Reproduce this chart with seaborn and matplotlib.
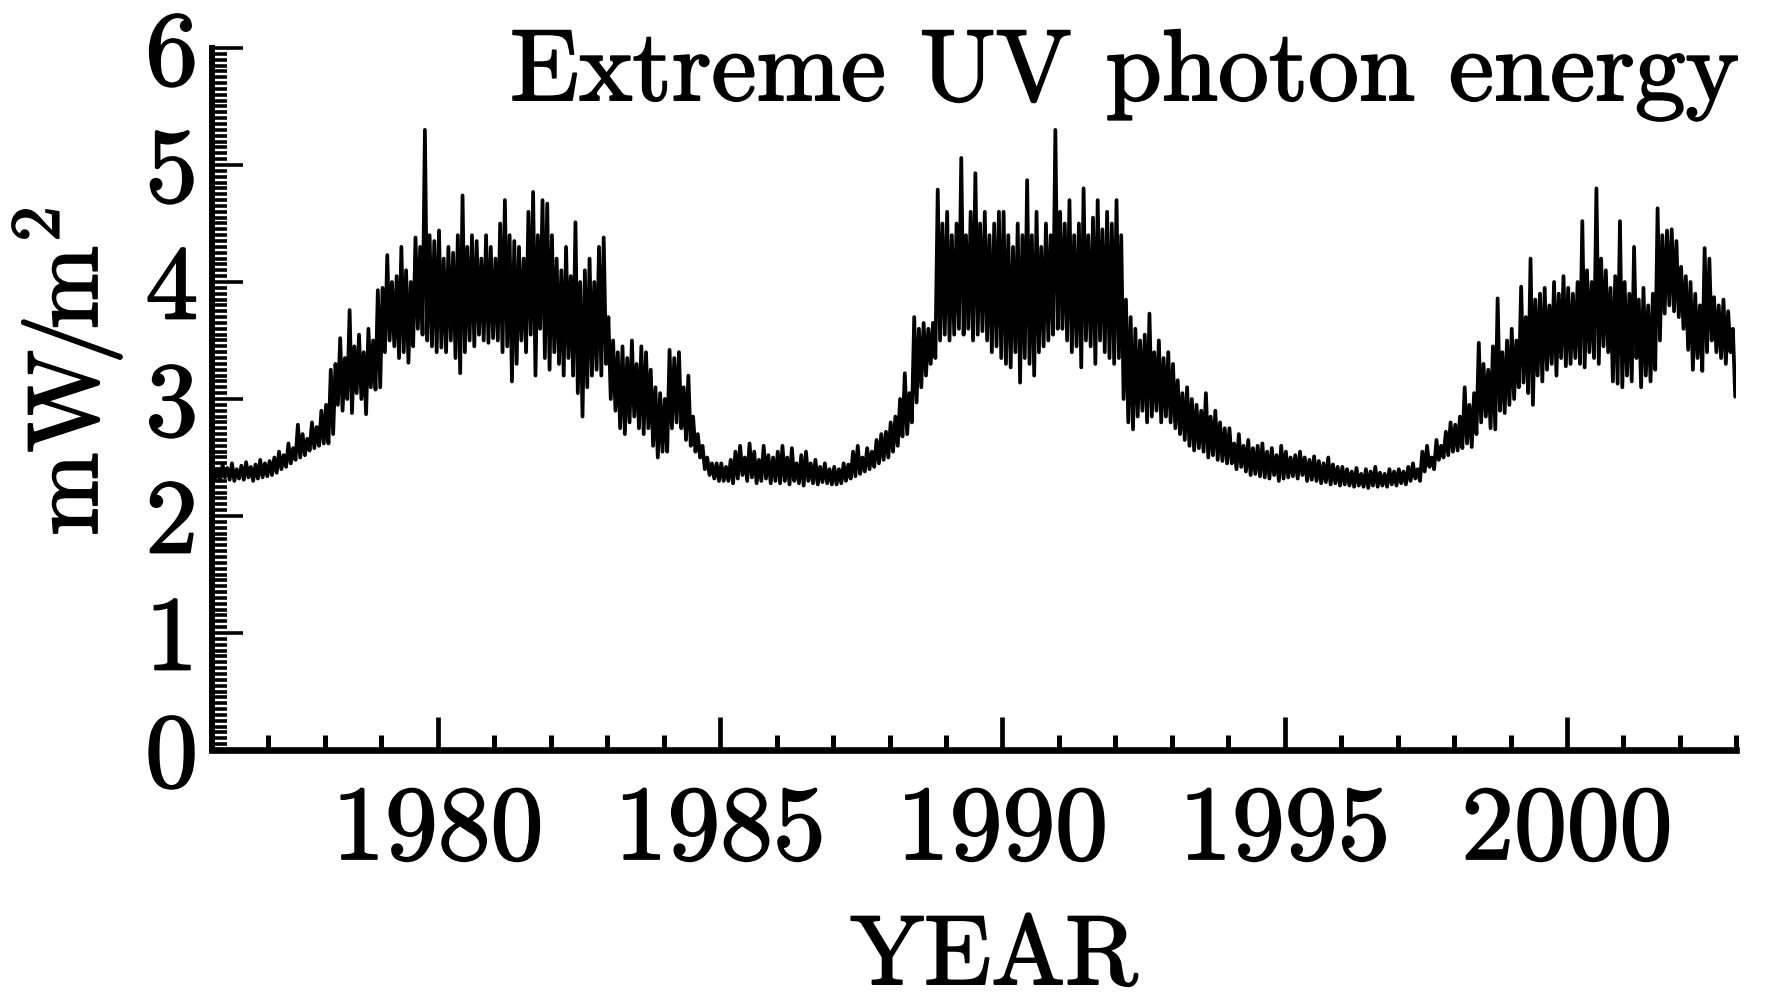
import numpy as np
import pandas as pd
import matplotlib
matplotlib.use("Agg")
import matplotlib.pyplot as plt
import matplotlib.patheffects as pe
import seaborn as sns
from matplotlib.ticker import MultipleLocator, FixedLocator

# ---------------- data (monthly upper / lower envelope) ----------------
start_year = 1976
high = [
    2.42, 2.40, 2.44, 2.41, 2.45, 2.40, 2.43, 2.46, 2.42, 2.44, 2.48, 2.45,  # 1976
    2.47, 2.50, 2.55, 2.52, 2.62, 2.58, 2.78, 2.70, 2.66, 2.80, 2.76, 2.90,  # 1977
    2.95, 3.25, 3.30, 3.52, 3.35, 3.76, 3.45, 3.55, 3.40, 3.60, 3.50, 3.93,  # 1978
    3.95, 4.23, 4.00, 4.05, 4.30, 4.10, 4.00, 4.38, 4.30, 5.30, 4.40, 4.35,  # 1979
    4.44, 4.20, 4.30, 4.25, 4.40, 4.74, 4.30, 4.40, 4.35, 4.20, 4.40, 4.30,  # 1980
    4.20, 4.50, 4.70, 4.40, 4.35, 4.30, 4.20, 4.60, 4.77, 4.40, 4.70, 4.67,  # 1981
    4.40, 4.20, 4.10, 4.30, 4.05, 4.51, 4.00, 4.10, 4.20, 4.00, 4.30, 4.38,  # 1982
    3.70, 3.50, 3.40, 3.45, 3.35, 3.50, 3.30, 3.45, 3.40, 3.25, 3.10, 3.05,  # 1983
    3.00, 3.42, 3.35, 3.40, 3.10, 3.20, 2.85, 2.70, 2.60, 2.50, 2.45, 2.45,  # 1984
    2.45, 2.42, 2.48, 2.55, 2.60, 2.50, 2.62, 2.55, 2.48, 2.60, 2.52, 2.50,  # 1985
    2.55, 2.60, 2.50, 2.58, 2.45, 2.52, 2.55, 2.45, 2.48, 2.42, 2.45, 2.40,  # 1986
    2.42, 2.40, 2.45, 2.44, 2.55, 2.60, 2.50, 2.58, 2.55, 2.65, 2.70, 2.72,  # 1987
    2.80, 2.85, 3.00, 3.22, 3.05, 3.70, 3.60, 3.65, 3.60, 3.65, 4.79, 4.50,  # 1988
    4.60, 4.40, 4.50, 5.06, 4.40, 4.60, 4.93, 4.50, 4.60, 4.40, 4.50, 4.60,  # 1989
    4.60, 4.40, 4.30, 4.50, 4.40, 4.87, 4.40, 4.60, 4.30, 4.50, 4.40, 5.30,  # 1990
    4.60, 4.50, 4.70, 4.40, 4.50, 4.80, 4.40, 4.55, 4.70, 4.45, 4.60, 4.50,  # 1991
    4.70, 4.40, 3.85, 3.70, 3.60, 3.50, 3.55, 3.73, 3.40, 3.50, 3.35, 3.40,  # 1992
    3.30, 3.16, 3.05, 3.10, 3.00, 2.95, 2.90, 3.05, 2.85, 2.90, 2.80, 2.75,  # 1993
    2.75, 2.62, 2.70, 2.60, 2.65, 2.58, 2.60, 2.62, 2.55, 2.58, 2.52, 2.60,  # 1994
    2.55, 2.50, 2.52, 2.55, 2.50, 2.48, 2.51, 2.47, 2.45, 2.50, 2.44, 2.42,  # 1995
    2.42, 2.40, 2.38, 2.41, 2.36, 2.40, 2.38, 2.42, 2.37, 2.36, 2.40, 2.38,  # 1996
    2.40, 2.38, 2.42, 2.45, 2.40, 2.55, 2.60, 2.50, 2.65, 2.60, 2.72, 2.80,  # 1997
    2.78, 2.85, 3.10, 2.95, 3.05, 3.48, 3.30, 3.25, 3.45, 3.86, 3.40, 3.50,  # 1998
    3.60, 3.50, 3.96, 3.70, 4.20, 3.85, 3.90, 3.95, 3.80, 4.00, 3.90, 4.05,  # 1999
    3.95, 3.90, 4.00, 4.52, 4.10, 4.00, 4.80, 4.20, 4.10, 3.95, 4.05, 4.52,  # 2000
    4.00, 3.90, 4.30, 3.85, 3.95, 3.80, 3.90, 4.63, 4.40, 4.44, 4.45, 4.35,  # 2001
    4.13, 4.05, 4.00, 3.90, 3.80, 4.29, 4.20, 3.87, 3.80, 3.85, 3.75, 3.60,  # 2002
]
low = [
    2.32, 2.30, 2.33, 2.31, 2.30, 2.32, 2.31, 2.33, 2.30, 2.32, 2.33, 2.34,  # 1976
    2.35, 2.37, 2.40, 2.42, 2.45, 2.48, 2.50, 2.52, 2.56, 2.58, 2.60, 2.62,  # 1977
    2.62, 2.70, 2.95, 2.90, 3.00, 2.88, 3.05, 3.00, 2.87, 3.10, 3.08, 3.10,  # 1978
    3.40, 3.50, 3.45, 3.35, 3.40, 3.31, 3.45, 3.60, 3.55, 3.50, 3.45, 3.40,  # 1979
    3.44, 3.40, 3.50, 3.35, 3.22, 3.40, 3.50, 3.45, 3.55, 3.50, 3.48, 3.52,  # 1980
    3.50, 3.40, 3.45, 3.15, 3.30, 3.50, 3.40, 3.55, 3.20, 3.60, 3.35, 3.25,  # 1981
    3.40, 3.30, 3.20, 3.35, 3.20, 3.05, 2.85, 3.10, 3.20, 3.25, 3.20, 3.30,  # 1982
    3.00, 2.90, 2.75, 2.70, 2.80, 2.85, 2.75, 2.70, 2.75, 2.60, 2.50, 2.55,  # 1983
    2.55, 2.75, 2.80, 2.75, 2.65, 2.60, 2.55, 2.50, 2.40, 2.35, 2.32, 2.30,  # 1984
    2.30, 2.30, 2.28, 2.32, 2.35, 2.30, 2.33, 2.28, 2.30, 2.32, 2.28, 2.30,  # 1985
    2.28, 2.30, 2.27, 2.30, 2.28, 2.26, 2.30, 2.28, 2.27, 2.29, 2.28, 2.27,  # 1986
    2.27, 2.28, 2.30, 2.32, 2.34, 2.36, 2.38, 2.40, 2.42, 2.45, 2.48, 2.50,  # 1987
    2.55, 2.60, 2.68, 2.70, 2.80, 2.97, 3.10, 3.20, 3.30, 3.35, 3.50, 3.55,  # 1988
    3.50, 3.55, 3.60, 3.55, 3.60, 3.50, 3.55, 3.58, 3.50, 3.40, 3.45, 3.35,  # 1989
    3.30, 3.27, 3.40, 3.14, 3.35, 3.30, 3.20, 3.40, 3.45, 3.50, 3.55, 3.60,  # 1990
    3.60, 3.50, 3.40, 3.45, 3.27, 3.50, 3.45, 3.30, 3.50, 3.40, 3.35, 3.30,  # 1991
    3.35, 3.00, 2.80, 2.74, 2.85, 2.90, 2.80, 2.85, 2.90, 2.80, 2.85, 2.80,  # 1992
    2.75, 2.70, 2.65, 2.60, 2.56, 2.58, 2.55, 2.50, 2.52, 2.48, 2.47, 2.45,  # 1993
    2.45, 2.40, 2.42, 2.38, 2.35, 2.36, 2.34, 2.33, 2.32, 2.35, 2.30, 2.32,  # 1994
    2.33, 2.34, 2.32, 2.35, 2.30, 2.31, 2.30, 2.28, 2.29, 2.27, 2.28, 2.26,  # 1995
    2.27, 2.26, 2.25, 2.26, 2.25, 2.24, 2.26, 2.25, 2.26, 2.25, 2.27, 2.26,  # 1996
    2.28, 2.27, 2.30, 2.32, 2.30, 2.38, 2.42, 2.40, 2.48, 2.50, 2.52, 2.55,  # 1997
    2.56, 2.58, 2.62, 2.59, 2.70, 2.80, 2.85, 2.75, 2.74, 2.90, 2.88, 2.95,  # 1998
    3.00, 3.10, 3.14, 3.05, 2.95, 3.20, 3.15, 3.25, 3.30, 3.20, 3.35, 3.28,  # 1999
    3.30, 3.35, 3.30, 3.27, 3.40, 3.35, 3.30, 3.45, 3.40, 3.15, 3.13, 3.10,  # 2000
    3.20, 3.15, 3.35, 3.10, 3.20, 3.15, 3.25, 3.50, 3.73, 3.80, 3.75, 3.70,  # 2001
    3.60, 3.42, 3.25, 3.35, 3.24, 3.40, 3.50, 3.40, 3.35, 3.30, 3.40, 3.02,  # 2002
]

year_ticks = [1980, 1985, 1990, 1995, 2000]
y_ticks = [0, 1, 2, 3, 4, 5, 6]

# ---------------- build the series ----------------
times, values = [], []
for i, (h, l) in enumerate(zip(high, low)):
    times += [start_year + (i + 0.25) / 12.0, start_year + (i + 0.75) / 12.0]
    values += [h, l]
df = pd.DataFrame({"year": times, "euv": values})

# ---------------- style ----------------
sns.set_style("ticks")
plt.rcParams["font.family"] = ["cmr10"]
plt.rcParams["mathtext.fontset"] = "cm"
plt.rcParams["axes.unicode_minus"] = False
plt.rcParams["axes.formatter.use_mathtext"] = True
for key in ["text.color", "axes.labelcolor", "xtick.color", "ytick.color", "axes.edgecolor"]:
    plt.rcParams[key] = "black"

bold = [pe.withStroke(linewidth=1.4, foreground="black")]

fig = plt.figure(figsize=(17.68, 9.96), dpi=100)
ax = fig.add_axes([212 / 1768, 1 - 750 / 996, 1524.4 / 1768, 702 / 996])

sns.lineplot(data=df, x="year", y="euv", ax=ax, color="black",
             linewidth=2.7, estimator=None, sort=False)

ax.set_xlim(1976, 2003)
ax.set_ylim(0, 6)

ax.xaxis.set_major_locator(FixedLocator(year_ticks))
ax.xaxis.set_minor_locator(MultipleLocator(1))
ax.yaxis.set_major_locator(FixedLocator(y_ticks))
ax.yaxis.set_minor_locator(MultipleLocator(0.05))
ax.set_xticklabels([str(y) for y in year_ticks])
ax.set_yticklabels([str(v) for v in y_ticks])

for s in ["top", "right"]:
    ax.spines[s].set_visible(False)
ax.spines["left"].set_linewidth(4.3)
ax.spines["bottom"].set_linewidth(4.8)
ax.spines["left"].set_capstyle("projecting")
ax.spines["bottom"].set_capstyle("projecting")

ax.tick_params(axis="x", which="major", direction="in", length=24, width=3.4,
               labelsize=76, pad=26)
ax.tick_params(axis="x", which="minor", direction="in", length=11, width=3.6)
ax.tick_params(axis="y", which="major", direction="in", length=22, width=2.6,
               labelsize=76, pad=10)
ax.tick_params(axis="y", which="minor", direction="in", length=11, width=2.6)

ax.set_xlabel("YEAR", fontsize=71, va="baseline")
ax.xaxis.set_label_coords((994 - 212) / 1524.4, (750 - 984) / 702)
ax.set_ylabel(r"$\mathrm{mW\!/\!m}^{2}$", fontsize=72, va="baseline")
ax.yaxis.set_label_coords((97 - 212) / 1524.4, (750 - 372) / 702)

title = ax.text(1.002, (750 - 100) / 702, "Extreme UV photon energy", transform=ax.transAxes,
                ha="right", va="baseline", fontsize=73)

for t in ax.get_xticklabels() + ax.get_yticklabels() + [ax.xaxis.label, ax.yaxis.label, title]:
    t.set_path_effects(bold)

ax.grid(False)
fig.savefig("out.png", dpi=100, facecolor="white")
